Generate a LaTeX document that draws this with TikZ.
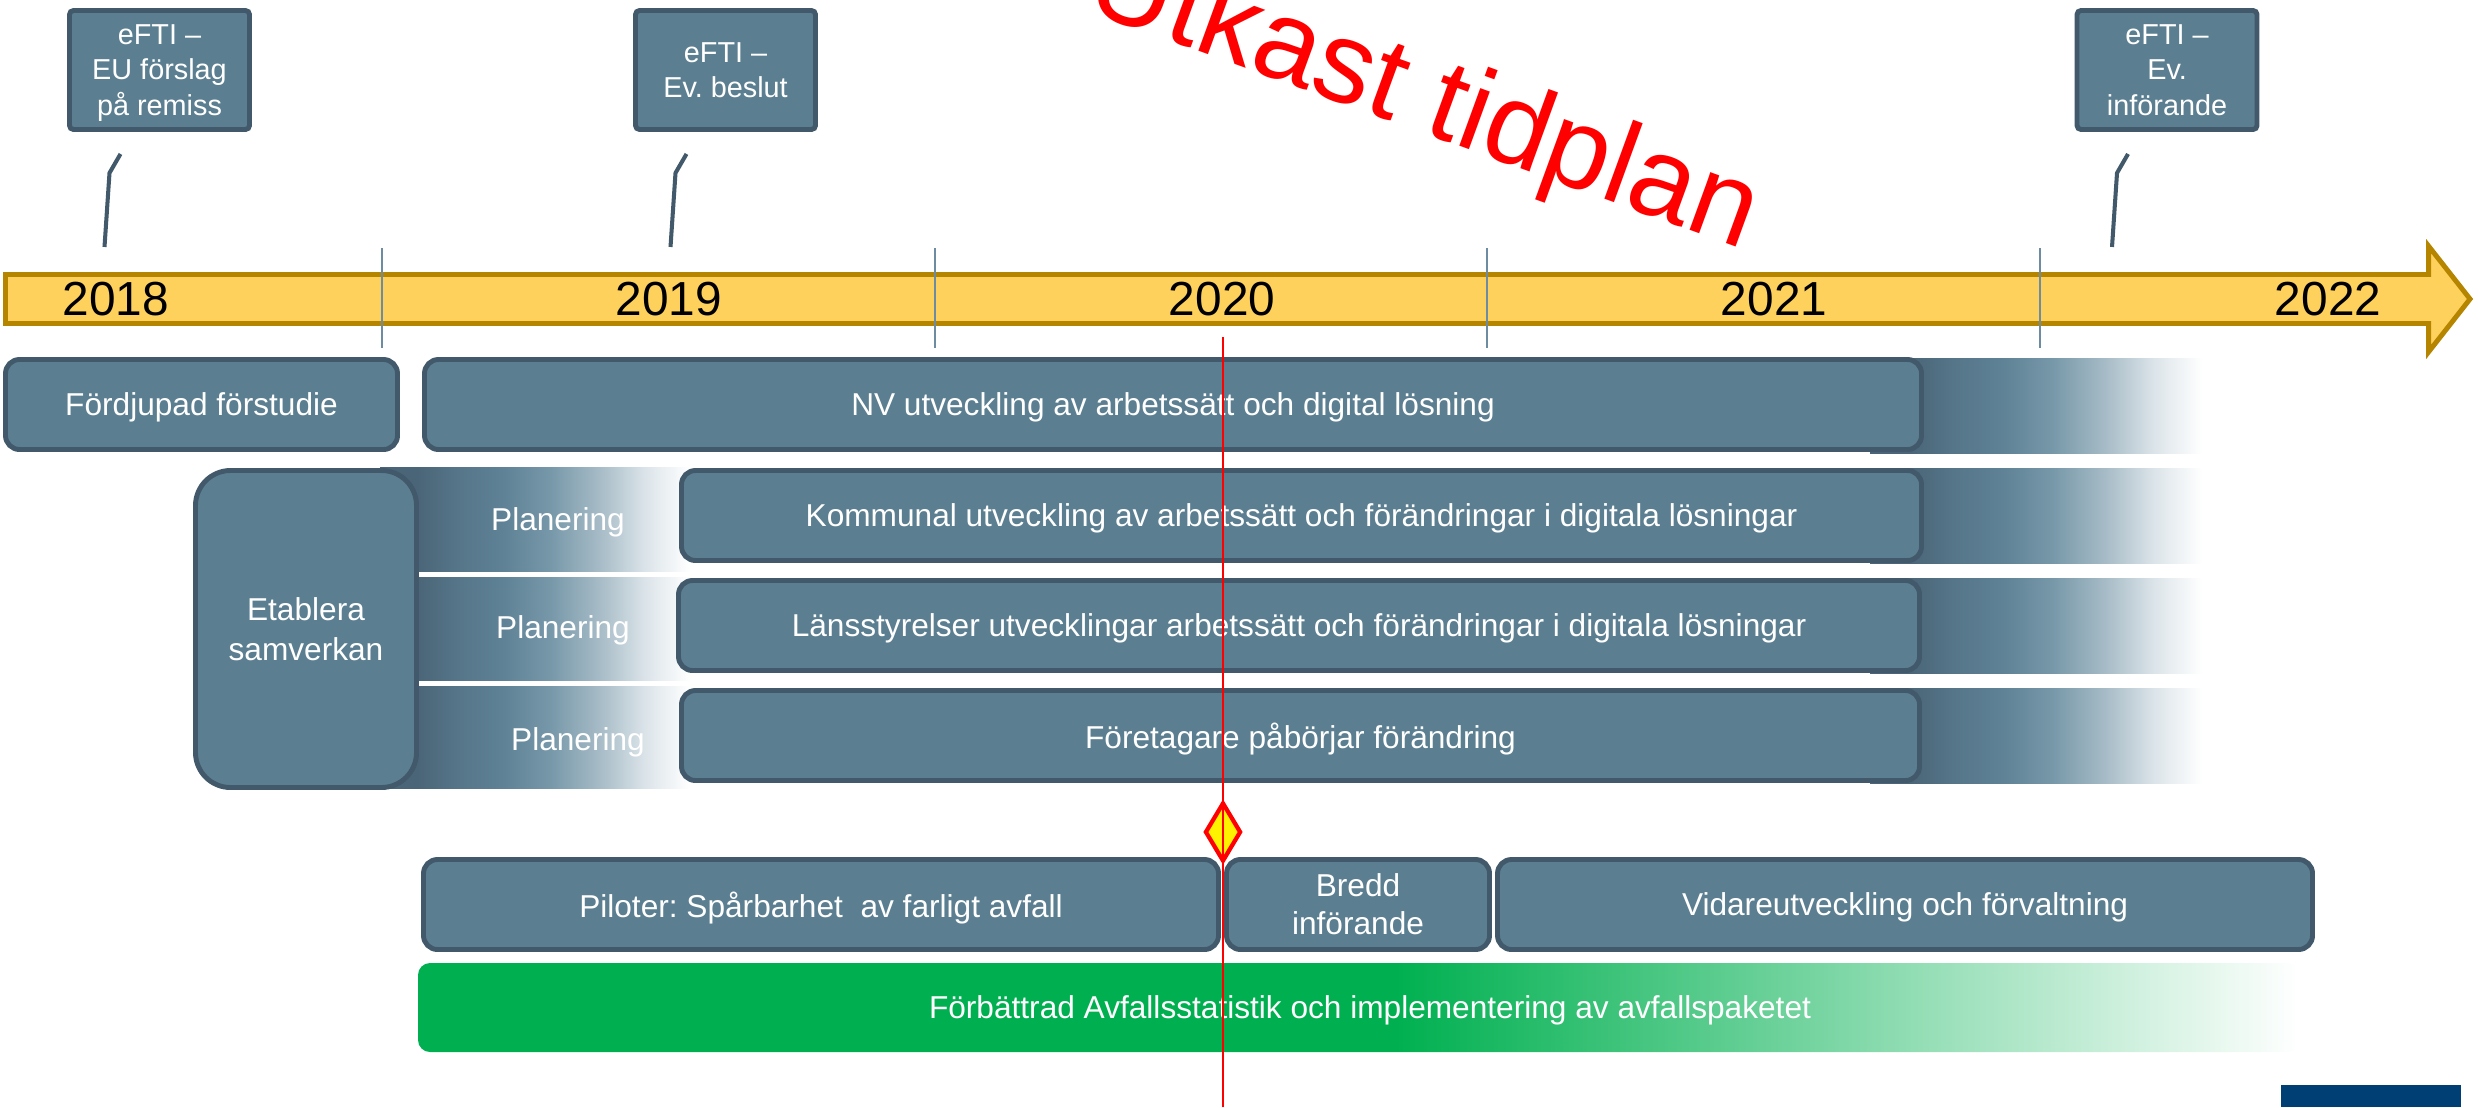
\documentclass[tikz,border=0pt]{standalone}
\usepackage{fontspec}
\setmainfont{Liberation Sans}
\usetikzlibrary{calc,shapes.geometric}
\frenchspacing

\definecolor{slate}{HTML}{5B7F91}
\definecolor{slateedge}{HTML}{41596A}
\definecolor{gold}{HTML}{FED15C}
\definecolor{goldedge}{HTML}{B58500}
\definecolor{tickblue}{HTML}{6E8CA1}
\definecolor{grn}{HTML}{00B050}
\definecolor{navy}{HTML}{003F73}
\definecolor{fadeA}{HTML}{4A6577}
\definecolor{fadeB}{HTML}{557488}
\definecolor{fadeC}{HTML}{5F8296}
\definecolor{fadeD}{HTML}{7798A9}
\definecolor{fadeE}{HTML}{A7BCC7}
\definecolor{fadeF}{HTML}{DDE5EA}

\pgfdeclarehorizontalshading{slatefade}{100bp}{color(0bp)=(fadeA); color(31bp)=(fadeA); color(37bp)=(fadeB); color(45bp)=(fadeC); color(52.5bp)=(fadeD); color(60.5bp)=(fadeE); color(68bp)=(fadeF); color(75bp)=(white); color(100bp)=(white)}
\pgfdeclarehorizontalshading{greenfade}{100bp}{color(0bp)=(grn); color(51bp)=(grn); color(75bp)=(white); color(100bp)=(white)}

\begin{document}
\begin{tikzpicture}[x=0.1mm,y=-0.1mm,
    box/.style={draw=slateedge,fill=slate,line width=1.4pt,rounded corners=1.4mm,text=white,inner sep=0pt,text depth=0pt,align=center,font=\fontsize{9}{10.8}\selectfont},
    eftibox/.style={box,rounded corners=0.4mm,font=\fontsize{8.2}{10.1}\selectfont,minimum width=18mm,minimum height=11.9mm},
    yearlbl/.style={font=\fontsize{13.6}{16}\selectfont,inner sep=0pt},
    planlbl/.style={text=white,font=\fontsize{9}{10.8}\selectfont,inner sep=0pt},
    leader/.style={draw=slateedge,line width=1.15pt},
    yeartick/.style={draw=tickblue,line width=0.5pt}]
    \useasboundingbox (0,0) rectangle (2478,1107);
    \node[rotate=-20,anchor=base west,inner sep=0pt,text=red,font=\fontsize{33}{40}\selectfont] (utkast) at (1082,9) {Utkast tidplan};
    \node[eftibox] (efti1) at (159.5,70) {eFTI –\\EU förslag\\på remiss};
    \node[eftibox] (efti2) at (725.5,70) {eFTI –\\Ev. beslut};
    \node[eftibox] (efti3) at (2167,70) {eFTI –\\Ev.\\införande};
    \foreach \n in {1,2,3}
        \draw[leader] ($(efti\n.south)+(-39,22)$) -- ++(-11,19) -- ++(-5,74);
    \draw[draw=goldedge,fill=gold,line width=1.4pt] (5.5,274.5)--(2428.5,274.5)--(2428.5,246)--(2470,299)--(2428.5,352)--(2428.5,323.5)--(5.5,323.5)--cycle;
    \foreach \xx in {382,935,1487,2040}
        \draw[yeartick] (\xx,248)--(\xx,348);
    \foreach \yr/\xx in {2018/116,2019/669,2020/1222,2021/1774,2022/2328}
        \node[yearlbl] (y\yr) at (\xx,299) {\yr};
    \foreach \ya/\yb in {358/453,468/563,578/673,688/783}
        \shade[shading=slatefade] (1870,\ya) rectangle (2202,\yb);
    \foreach \ya/\yb in {467/571,577/680,686/788}
        \shade[shading=slatefade] (380,\ya) rectangle (690,\yb);
    \node[box,minimum width=39.2mm,minimum height=9mm] (forstudie) at (201.5,404.5) {Fördjupad förstudie};
    \node[box,minimum width=149.7mm,minimum height=9mm] (nv) at (1173,404.5) {NV utveckling av arbetssätt och digital lösning};
    \node[box,rounded corners=3.5mm,minimum width=22.1mm,minimum height=31.7mm,font=\fontsize{9}{11.3}\selectfont] (etablera) at (306,629) {Etablera\\samverkan};
    \node[planlbl] (plan1) at (558,522) {Planering};
    \node[planlbl] (plan2) at (563,630) {Planering};
    \node[planlbl] (plan3) at (578,742) {Planering};
    \node[box,minimum width=124mm,minimum height=9mm] (kommunal) at (1301.5,515.5) {Kommunal utveckling av arbetssätt och förändringar i digitala lösningar};
    \node[box,minimum width=124.1mm,minimum height=9mm] (lans) at (1299,625.5) {Länsstyrelser utvecklingar arbetssätt och förändringar i digitala lösningar};
    \node[box,minimum width=123.8mm,minimum height=9mm] (foretag) at (1300.5,735.5) {Företagare påbörjar förändring};
    \node[box,minimum width=79.5mm,minimum height=9mm] (piloter) at (821,904.5) {Piloter: Spårbarhet~ av farligt avfall};
    \node[box,minimum width=26.3mm,minimum height=9mm] (bredd) at (1358,904.5) {Bredd\\införande};
    \node[box,minimum width=81.5mm,minimum height=9mm] (vidare) at (1905,904.5) {Vidareutveckling och förvaltning};
    \shade[shading=greenfade,rounded corners=1.2mm] (418,963) rectangle (2300,1052);
    \node[planlbl,text depth=0pt] (avfall) at (1370,1007) {Förbättrad Avfallsstatistik och implementering av avfallspaketet};
    \node[diamond,draw=red,fill=yellow,line width=1.2pt,inner sep=0pt,minimum width=3.6mm,minimum height=5.9mm] (milstolpe) at (1223,832) {};
    \coordinate (idag) at (1223,337);
    \draw[red,line width=0.5pt] (idag) -- (idag |- 0,1107);
    \fill[navy] (2281,1085) rectangle (2461,1107);
\end{tikzpicture}
\end{document}
